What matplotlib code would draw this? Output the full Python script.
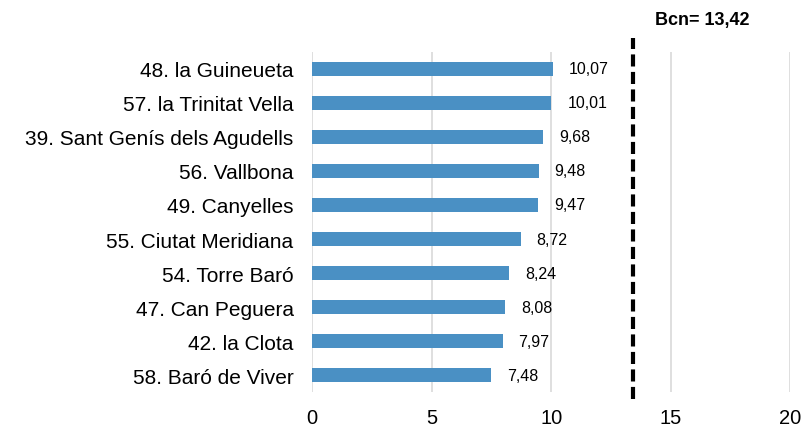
import matplotlib.pyplot as plt

categories = ["48. la Guineueta", "57. la Trinitat Vella", "39. Sant Genís dels Agudells",
              "56. Vallbona", "49. Canyelles", "55. Ciutat Meridiana", "54. Torre Baró",
              "47. Can Peguera", "42. la Clota", "58. Baró de Viver"]
values = [10.07, 10.01, 9.68, 9.48, 9.47, 8.72, 8.24, 8.08, 7.97, 7.48]
labels = ["10,07", "10,01", "9,68", "9,48", "9,47", "8,72", "8,24", "8,08", "7,97", "7,48"]
bcn_value = 13.42
bcn_label = "Bcn= 13,42"
xticks = [0, 5, 10, 15, 20]

plt.rcParams['font.family'] = ['Liberation Sans', 'DejaVu Sans']

fig = plt.figure(figsize=(8.02, 4.27), dpi=100)
ax = fig.add_axes([0.3894, 0.0796, 0.5956, 0.7963])

ypos = list(range(len(categories)))
ax.barh(ypos, values, height=0.41, color="#4a90c4", zorder=3)
for y, v, l in zip(ypos, values, labels):
    ax.annotate(l, (v, y), xytext=(11.5, 0), textcoords="offset points",
                va="center", ha="left", fontsize=11.5, color="#000000")

ax.set_ylim(len(categories) - 0.5, -0.5)
ax.set_xlim(0, 20)
ax.set_xticks(xticks)
ax.set_xticklabels([str(t) for t in xticks], fontsize=14.5)
ax.set_yticks(ypos)
ax.set_yticklabels(categories, fontsize=15)
ax.tick_params(axis="both", length=0)
ax.tick_params(axis="y", pad=13.5)
ax.tick_params(axis="x", pad=11.5)
ax.grid(axis="x", color="#d9d9d9", linewidth=1.2, zorder=0)
for s in ax.spines.values():
    s.set_visible(False)

trans = ax.get_xaxis_transform()
ax.plot([bcn_value, bcn_value], [-0.02, 1.04], transform=trans, color="black",
        linestyle=(0, (2.9, 1.3)), linewidth=3, clip_on=False, zorder=4)
ax.text(0.817, 1.095, bcn_label, transform=ax.transAxes, ha="center", va="center",
        fontsize=13, fontweight="bold")

fig.savefig("out.png", dpi=100)
